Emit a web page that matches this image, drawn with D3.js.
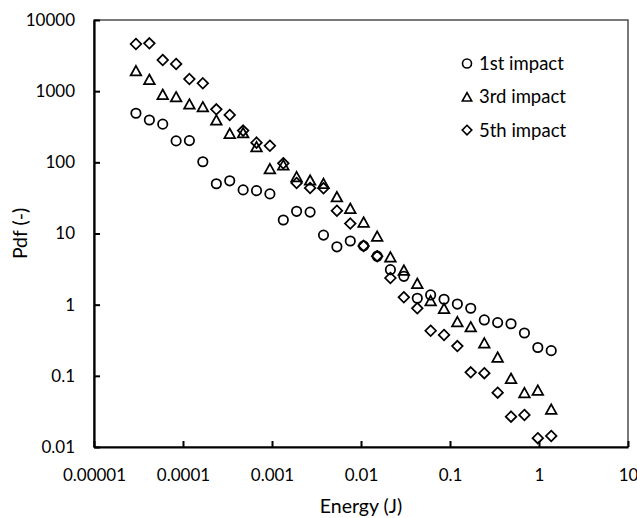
<!DOCTYPE html>
<html>
<head>
<meta charset="utf-8">
<script src="https://cdn.jsdelivr.net/npm/d3@7"></script>
<style>
body { margin: 0; background: #fff; }
svg { display: block; }
text { font-family: Lato, "Liberation Sans", sans-serif; fill: #000; }
</style>
</head>
<body>
<div id="chart"></div>
<script>
// energy bins (J), shared by all three series
var energy = [2.96e-5, 4.19e-5, 5.92e-5, 8.37e-5, 1.18e-4, 1.67e-4, 2.37e-4, 3.35e-4,
              4.74e-4, 6.70e-4, 9.47e-4, 1.34e-3, 1.89e-3, 2.68e-3, 3.79e-3, 5.36e-3,
              7.58e-3, 1.07e-2, 1.52e-2, 2.14e-2, 3.03e-2, 4.29e-2, 6.06e-2, 8.57e-2,
              0.121, 0.171, 0.243, 0.343, 0.485, 0.686, 0.970, 1.372];

var impact1 = [489, 394, 344, 200, 202, 102, 50, 55, 41, 40, 36, 15.5, 20.5, 20, 9.5, 6.5,
               7.85, 6.7, 4.8, 3.1, 2.5, 1.23, 1.37, 1.19, 1.02, 0.89, 0.61, 0.56, 0.54, 0.40, 0.25, 0.226];
var impact3 = [1940, 1470, 904, 836, 661, 605, 394, 256, 261, 166, 81.5, 92, 63, 56.5, 50.7, 32.9,
               22.6, 14.5, 9.2, 4.7, 3.07, 2.0, 1.14, 0.89, 0.577, 0.49, 0.29, 0.184, 0.0925, 0.058, 0.063, 0.034];
var impact5 = [4600, 4700, 2740, 2410, 1480, 1290, 556, 463, 279, 189, 171, 97, 51.3, 43.6, 43.2, 20.9,
               13.8, 6.7, 4.8, 2.37, 1.27, 0.89, 0.43, 0.375, 0.262, 0.112, 0.109, 0.058, 0.0267, 0.0282, 0.0133, 0.0143];

var seriesNames = ["1st impact", "3rd impact", "5th impact"];

var xTicks = [1e-5, 1e-4, 1e-3, 1e-2, 1e-1, 1, 10];
var xTickLabels = ["0.00001", "0.0001", "0.001", "0.01", "0.1", "1", "10"];
var yTicks = [0.01, 0.1, 1, 10, 100, 1000, 10000];
var yTickLabels = ["0.01", "0.1", "1", "10", "100", "1000", "10000"];

var w = 637, h = 518;
var margin = {top: 20, right: 9, bottom: 71, left: 94};

var svg = d3.select("#chart").append("svg").attr("width", w).attr("height", h);

var x = d3.scaleLog().domain([1e-5, 10]).range([margin.left, w - margin.right]);
var y = d3.scaleLog().domain([0.01, 10000]).range([h - margin.bottom, margin.top]);

// plot area border (top / right)
svg.append("rect")
    .attr("x", x.range()[0]).attr("y", y.range()[1])
    .attr("width", x.range()[1] - x.range()[0])
    .attr("height", y.range()[0] - y.range()[1])
    .style("fill", "none").style("stroke", "#333").style("stroke-width", 1.3);

var xAxis = d3.axisBottom(x).tickValues(xTicks)
    .tickFormat(function(d, i) { return xTickLabels[i]; })
    .tickSizeInner(-6).tickSizeOuter(0).tickPadding(21.5);
var yAxis = d3.axisLeft(y).tickValues(yTicks)
    .tickFormat(function(d, i) { return yTickLabels[i]; })
    .tickSizeInner(-6).tickSizeOuter(0).tickPadding(19);

var gx = svg.append("g").attr("transform", "translate(0," + y.range()[0] + ")").call(xAxis);
var gy = svg.append("g").attr("transform", "translate(" + x.range()[0] + ",0)").call(yAxis);

[gx, gy].forEach(function(g) {
  g.select(".domain").style("stroke", "#000").style("stroke-width", 2.2);
  g.selectAll(".tick line").style("stroke", "#000").style("stroke-width", 2);
  g.selectAll(".tick text").style("font-family", "Lato, sans-serif").style("font-size", "17px").style("fill", "#000");
});

// axis titles
svg.append("text")
    .attr("x", (x.range()[0] + x.range()[1]) / 2).attr("y", 513)
    .attr("text-anchor", "middle").style("font-size", "19.5px")
    .text("Energy (J)");
svg.append("text")
    .attr("transform", "translate(26.5," + (y.range()[0] + y.range()[1]) / 2 + ") rotate(-90)")
    .attr("text-anchor", "middle").style("font-size", "19.5px")
    .text("Pdf (-)");

// marker shapes like the spreadsheet ones
var triangle = { draw: function(ctx, size) {
  var s = Math.sqrt(size) / 2;
  ctx.moveTo(0, -s * 0.9); ctx.lineTo(s, s * 0.9); ctx.lineTo(-s, s * 0.9); ctx.closePath();
}};
var diamond = { draw: function(ctx, size) {
  var s = Math.sqrt(size) / 2;
  ctx.moveTo(0, -s); ctx.lineTo(s, 0); ctx.lineTo(0, s); ctx.lineTo(-s, 0); ctx.closePath();
}};
var circle = { draw: function(ctx, size) {
  var r = Math.sqrt(size) / 2;
  ctx.moveTo(r, 0); ctx.arc(0, 0, r, 0, 2 * Math.PI);
}};

var series = [
  {name: seriesNames[0], values: impact1, shape: circle, size: 9.4 * 9.4, legSize: 9 * 9},
  {name: seriesNames[1], values: impact3, shape: triangle, size: 10.6 * 10.6, legSize: 9.4 * 9.4},
  {name: seriesNames[2], values: impact5, shape: diamond, size: 10.6 * 10.6, legSize: 9.6 * 9.6}
];

series.forEach(function(s) {
  svg.append("g").selectAll("path")
    .data(s.values)
    .enter().append("path")
    .attr("transform", function(d, i) { return "translate(" + x(energy[i]) + "," + y(d) + ")"; })
    .attr("d", d3.symbol().type(s.shape).size(s.size))
    .style("fill", "none").style("stroke", "#000").style("stroke-width", 1.75);
});

// legend
var legend = svg.append("g").attr("transform", "translate(467,63.5)");
series.forEach(function(s, i) {
  var row = legend.append("g").attr("transform", "translate(0," + i * 33.3 + ")");
  row.append("path")
    .attr("d", d3.symbol().type(s.shape).size(s.legSize))
    .style("fill", "none").style("stroke", "#000").style("stroke-width", 1.6);
  row.append("text").attr("x", 12).attr("y", 6.5)
    .style("font-size", "18.5px").text(s.name);
});
</script>
</body>
</html>
